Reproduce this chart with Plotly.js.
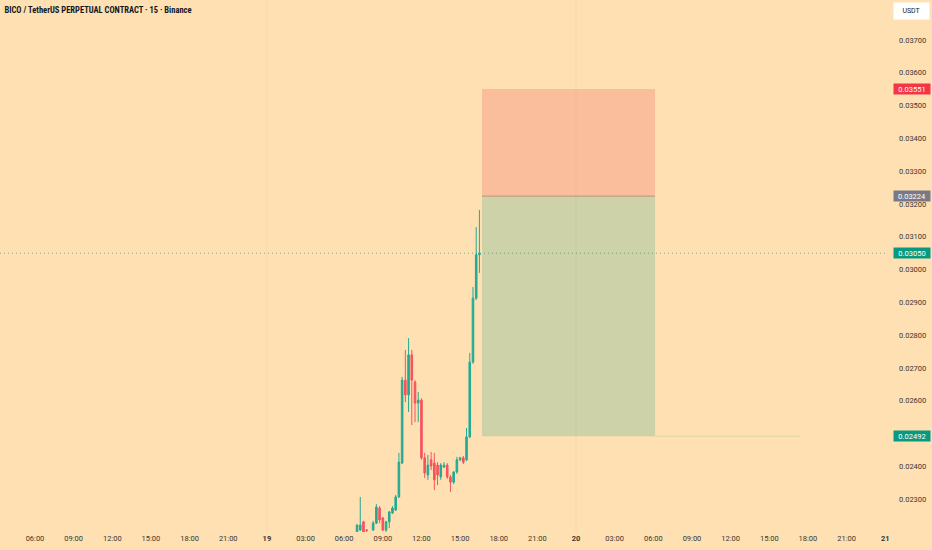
<!DOCTYPE html>
<html>
<head>
<meta charset="utf-8">
<script src="https://cdn.plot.ly/plotly-3.0.1.min.js"></script>
<style>
  html, body { margin: 0; padding: 0; background: #FEE0B2; }
  #chart { width: 932px; height: 550px; }
</style>
</head>
<body>
<div id="chart"></div>
<script>
// ---- Data (15-minute candles, BICO/USDT perpetual) ----
const times = [
  "2025-03-19 07:00","2025-03-19 07:15","2025-03-19 07:30","2025-03-19 07:45",
  "2025-03-19 08:15","2025-03-19 08:30","2025-03-19 08:45","2025-03-19 09:00",
  "2025-03-19 09:15","2025-03-19 09:30","2025-03-19 09:45","2025-03-19 10:00",
  "2025-03-19 10:15","2025-03-19 10:30","2025-03-19 10:45","2025-03-19 11:00",
  "2025-03-19 11:15","2025-03-19 11:30","2025-03-19 11:45","2025-03-19 12:00",
  "2025-03-19 12:15","2025-03-19 12:30","2025-03-19 12:45","2025-03-19 13:00",
  "2025-03-19 13:15","2025-03-19 13:30","2025-03-19 13:45","2025-03-19 14:00",
  "2025-03-19 14:15","2025-03-19 14:30","2025-03-19 14:45","2025-03-19 15:00",
  "2025-03-19 15:15","2025-03-19 15:30","2025-03-19 15:45","2025-03-19 16:00",
  "2025-03-19 16:15","2025-03-19 16:30"
];
const opens = [
  0.02200,0.02206,0.02231,0.02206,
  0.02206,0.02227,0.02273,0.02243,
  0.02206,0.02231,0.02258,0.02267,
  0.02307,0.02410,0.02663,0.02618,
  0.02740,0.02657,0.02593,0.02602,
  0.02426,0.02374,0.02420,0.02410,
  0.02404,0.02368,0.02398,0.02404,
  0.02368,0.02352,0.02383,0.02420,
  0.02426,0.02420,0.02490,0.02718,
  0.02913,0.03045
];
const highs = [
  0.02224,0.02307,0.02234,0.02209,
  0.02234,0.02285,0.02279,0.02246,
  0.02234,0.02264,0.02279,0.02313,
  0.02441,0.02673,0.02755,0.02791,
  0.02755,0.02663,0.02627,0.02608,
  0.02441,0.02435,0.02444,0.02441,
  0.02413,0.02410,0.02413,0.02410,
  0.02374,0.02386,0.02429,0.02429,
  0.02432,0.02517,0.02746,0.02947,
  0.03130,0.03182
];
const lows = [
  0.02197,0.02203,0.02197,0.02200,
  0.02203,0.02224,0.02227,0.02203,
  0.02200,0.02212,0.02255,0.02264,
  0.02304,0.02407,0.02596,0.02566,
  0.02526,0.02535,0.02535,0.02420,
  0.02365,0.02359,0.02389,0.02328,
  0.02343,0.02359,0.02395,0.02362,
  0.02322,0.02346,0.02377,0.02416,
  0.02407,0.02416,0.02486,0.02713,
  0.02907,0.02990
];
const closes = [
  0.02221,0.02221,0.02200,0.02205,
  0.02227,0.02276,0.02237,0.02206,
  0.02231,0.02261,0.02273,0.02307,
  0.02413,0.02663,0.02618,0.02740,
  0.02663,0.02593,0.02602,0.02426,
  0.02380,0.02404,0.02401,0.02359,
  0.02374,0.02404,0.02404,0.02368,
  0.02352,0.02383,0.02420,0.02426,
  0.02413,0.02490,0.02718,0.02913,
  0.03045,0.03050
];

// Short position tool levels
const stopPrice = 0.03551;
const entryPrice = 0.03224;
const targetPrice = 0.02492;
const lastPrice = 0.03050;
const positionStart = "2025-03-19 16:42";
const positionEnd = "2025-03-20 06:08";
const targetLineEnd = "2025-03-20 17:23";

// Price axis ticks (0.02500 is hidden behind the target label in the reference)
const priceTickVals = [0.037, 0.036, 0.035, 0.034, 0.033, 0.032, 0.031, 0.030,
                       0.029, 0.028, 0.027, 0.026, 0.024, 0.023];
const priceTickText = ["0.03700","0.03600","0.03500","0.03400","0.03300","0.03200","0.03100",
                       "0.03000","0.02900","0.02800","0.02700","0.02600","0.02400","0.02300"];

// Time axis ticks
const timeTickVals = [
  "2025-03-18 06:00","2025-03-18 09:00","2025-03-18 12:00","2025-03-18 15:00",
  "2025-03-18 18:00","2025-03-18 21:00","2025-03-19 00:00","2025-03-19 03:00",
  "2025-03-19 06:00","2025-03-19 09:00","2025-03-19 12:00","2025-03-19 15:00",
  "2025-03-19 18:00","2025-03-19 21:00","2025-03-20 00:00","2025-03-20 03:00",
  "2025-03-20 06:00","2025-03-20 09:00","2025-03-20 12:00","2025-03-20 15:00",
  "2025-03-20 18:00","2025-03-20 21:00","2025-03-21 00:00"
];
const timeTickText = [
  "06:00","09:00","12:00","15:00","18:00","21:00","<b>19</b>","03:00",
  "06:00","09:00","12:00","15:00","18:00","21:00","<b>20</b>","03:00",
  "06:00","09:00","12:00","15:00","18:00","21:00","<b>21</b>"
];
const dayBreaks = ["2025-03-19 00:00","2025-03-20 00:00"];

// ---- Styling ----
const BG = "#FEE0B2";
const UP = "#22AB94";
const DOWN = "#F7525F";
const TEXT = "#3b3630";
const FONT = "Roboto, 'Liberation Sans', sans-serif";

const trace = {
  type: "candlestick",
  x: times, open: opens, high: highs, low: lows, close: closes,
  increasing: { line: { color: UP, width: 1 }, fillcolor: UP },
  decreasing: { line: { color: DOWN, width: 1 }, fillcolor: DOWN },
  whiskerwidth: 0,
  hoverinfo: "skip",
  showlegend: false
};

const shapes = [];
dayBreaks.forEach(d => shapes.push({
  type: "line", xref: "x", yref: "paper", x0: d, x1: d, y0: 0, y1: 1,
  line: { color: "rgba(120,100,70,0.06)", width: 1 }, layer: "below"
}));
// stop (risk) zone
shapes.push({ type: "rect", xref: "x", yref: "y", x0: positionStart, x1: positionEnd,
  y0: entryPrice, y1: stopPrice, fillcolor: "rgba(242,54,69,0.2)", line: { width: 0 }, layer: "below" });
// target (profit) zone
shapes.push({ type: "rect", xref: "x", yref: "y", x0: positionStart, x1: positionEnd,
  y0: targetPrice, y1: entryPrice, fillcolor: "rgba(8,153,129,0.2)", line: { width: 0 }, layer: "below" });
// entry line
shapes.push({ type: "line", xref: "x", yref: "y", x0: positionStart, x1: positionEnd,
  y0: entryPrice, y1: entryPrice, line: { color: "rgba(150,110,90,0.55)", width: 1 }, layer: "below" });
// target extension
shapes.push({ type: "line", xref: "x", yref: "y", x0: positionEnd, x1: targetLineEnd,
  y0: targetPrice, y1: targetPrice, line: { color: "rgba(8,153,129,0.15)", width: 1 }, layer: "below" });
// last price dotted line
shapes.push({ type: "line", xref: "paper", yref: "y", x0: 0, x1: 1,
  y0: lastPrice, y1: lastPrice, line: { color: "rgba(34,171,148,0.75)", width: 1, dash: "1px,3px" }, layer: "below" });

function priceLabel(v, bg) {
  return {
    xref: "paper", yref: "y", x: 1, y: v, xanchor: "left", yanchor: "middle",
    xshift: 5, text: v.toFixed(5), showarrow: false,
    bgcolor: bg, borderpad: 0, width: 36, height: 10, align: "center",
    font: { family: FONT, size: 7.5, color: "#ffffff" }
  };
}

const annotations = [
  priceLabel(stopPrice, "#F23645"),
  priceLabel(entryPrice, "#787B86"),
  priceLabel(lastPrice, "#089981"),
  priceLabel(targetPrice, "#089981"),
  { xref: "paper", yref: "paper", x: 1, y: 1 - 11.5/532, xanchor: "left", yanchor: "middle",
    xshift: 5, width: 35, height: 16, align: "center", bgcolor: "#ffffff", borderpad: 0,
    text: "USDT", showarrow: false, font: { family: FONT, size: 7, color: "#131722" } }
];

const layout = {
  width: 932, height: 550,
  margin: { l: 0, r: 44, t: 0, b: 18 },
  paper_bgcolor: BG, plot_bgcolor: BG,
  title: {
    text: "<b>BICO / TetherUS PERPETUAL CONTRACT · 15 · Binance</b>",
    x: 0.005, xanchor: "left", xref: "paper",
    y: 1 - 10/550, yanchor: "middle", yref: "container",
    font: { family: "'Liberation Sans Narrow', 'Roboto Condensed', 'Liberation Sans', sans-serif", size: 8.5, color: "#131722" }
  },
  xaxis: {
    type: "date",
    range: ["2025-03-18 03:17", "2025-03-21 00:13"],
    rangeslider: { visible: false },
    tickvals: timeTickVals, ticktext: timeTickText,
    showgrid: false, zeroline: false, showline: false,
    ticks: "", tickfont: { family: FONT, size: 7.5, color: TEXT },
    fixedrange: true
  },
  yaxis: {
    side: "right",
    range: [0.02200, 0.03822],
    tickvals: priceTickVals, ticktext: priceTickText,
    showgrid: false, zeroline: false, showline: false,
    ticks: "", ticklabelstandoff: 10,
    tickfont: { family: FONT, size: 7.5, color: TEXT },
    fixedrange: true
  },
  shapes: shapes,
  annotations: annotations,
  showlegend: false,
  hovermode: false
};

Plotly.newPlot("chart", [trace], layout, { displayModeBar: false, staticPlot: true });
</script>
</body>
</html>
